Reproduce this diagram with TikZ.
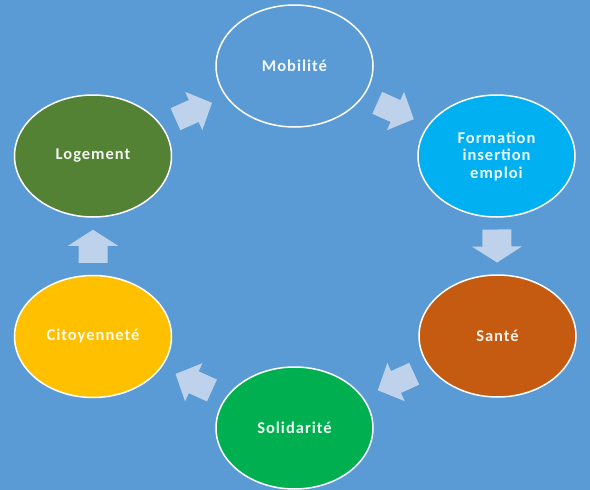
\documentclass[tikz,border=0pt]{standalone}
\usepackage{fontspec}
\newfontfamily\lblfont{Carlito}[LetterSpace=6]
\usetikzlibrary{shapes.geometric,calc}
\definecolor{bgblue}{RGB}{91,155,213}
\definecolor{cform}{RGB}{0,176,240}
\definecolor{csante}{RGB}{197,90,17}
\definecolor{csolid}{RGB}{0,176,80}
\definecolor{ccito}{RGB}{255,192,0}
\definecolor{clog}{RGB}{84,130,53}
\definecolor{carrow}{RGB}{190,210,236}
\tikzset{
  cyclenode/.style={ellipse, draw=white, line width=1.5pt, minimum width=157pt,
    minimum height=122pt, inner sep=0pt, align=center, text=white, text opacity=0.92,
    font=\lblfont\bfseries\fontsize{16.5}{17.5}\selectfont},
  arrowfill/.style={fill=carrow}
}
% #1 from, #2 to, #3 half length, #4 head base offset, #5 half shaft width, #6 half head width
\newcommand{\cycarrow}[6]{%
  \coordinate (m) at ($(#1)!0.5!(#2)$);
  \coordinate (t) at ($(m)!-#3pt!(#2)$);
  \coordinate (h) at ($(m)!#4pt!(#2)$);
  \coordinate (p) at ($(m)!#3pt!(#2)$);
  \fill[arrowfill] ($(t)!#5pt!90:(#2)$) -- ($(h)!#5pt!90:(#2)$) -- ($(h)!#6pt!90:(#2)$)
    -- (p) -- ($(h)!#6pt!-90:(#2)$) -- ($(h)!#5pt!-90:(#2)$) -- ($(t)!#5pt!-90:(#2)$) -- cycle;
}
\begin{document}
\begin{tikzpicture}[x=1pt,y=-1pt]
\fill[bgblue] (0,0) rectangle (590,490);
\useasboundingbox (0,0) rectangle (590,490);
\node[cyclenode] (mob) at (294.5,66) {Mobilité};
\node[cyclenode, fill=cform] (form) at (496.5,156) {Formation\\insertion\\emploi};
\node[cyclenode, fill=csante] (sante) at (497.5,336) {Santé};
\node[cyclenode, fill=csolid] (solid) at (294.5,428) {Solidarité};
\node[cyclenode, fill=ccito] (cito) at (93,336.5) {Citoyenneté};
\node[cyclenode, fill=clog] (loge) at (93,156) {Logement};
\cycarrow{loge}{mob}{20}{0}{12}{21}
\cycarrow{mob}{form}{20}{0}{12}{21}
\cycarrow{form}{sante}{16.5}{0.5}{14.5}{25}
\cycarrow{sante}{solid}{20}{0}{12}{21}
\cycarrow{solid}{cito}{20}{0}{12}{21}
\cycarrow{cito}{loge}{16.5}{0.5}{14.5}{25}
\end{tikzpicture}
\end{document}
